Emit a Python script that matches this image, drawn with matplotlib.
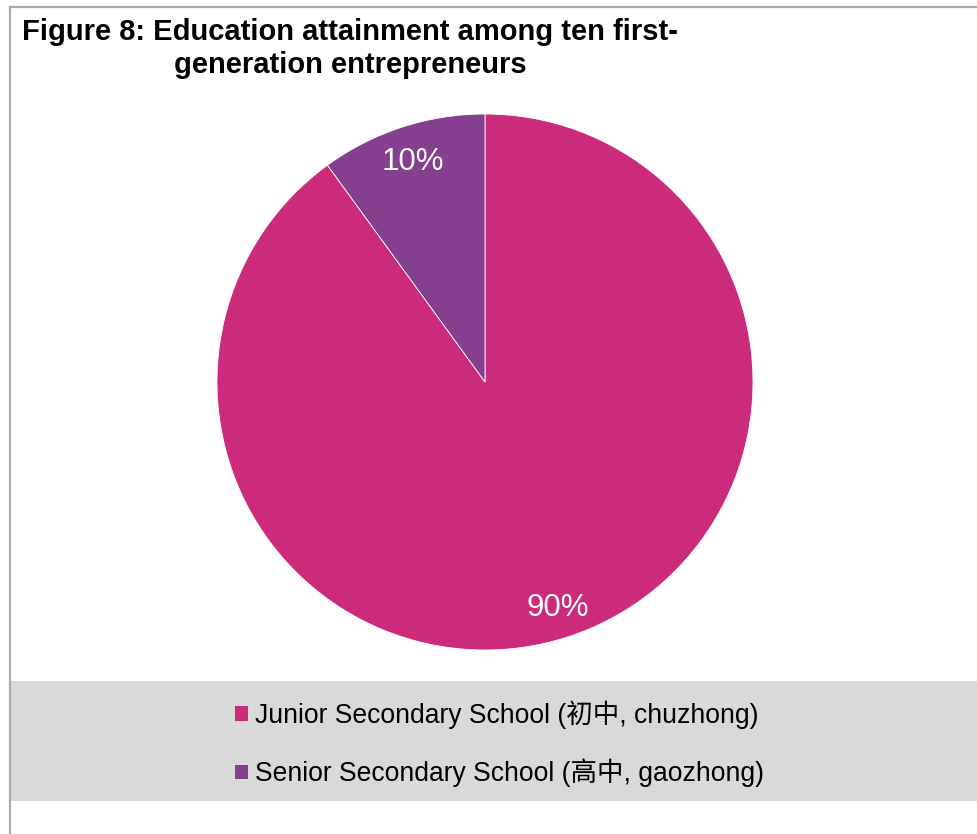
import matplotlib
matplotlib.use("Agg")
import matplotlib.pyplot as plt
from matplotlib.patches import Rectangle
from matplotlib.lines import Line2D

plt.rcParams['font.family'] = ['Liberation Sans', 'Noto Sans CJK SC', 'DejaVu Sans']

# Data
categories = ["Junior Secondary School (初中, chuzhong)",
              "Senior Secondary School (高中, gaozhong)"]
shares = [90, 10]
colors = ["#CC2A7B", "#843F8F"]
title = "Figure 8: Education attainment among ten first-\ngeneration entrepreneurs"

W, H = 978, 834
fig = plt.figure(figsize=(W / 100, H / 100), dpi=100)
ax = fig.add_axes([0, 0, 1, 1])

# Legend band
ax.add_patch(Rectangle((11, H - 801), W - 11, 120, facecolor="#D9D9D9",
                       edgecolor="none", zorder=0))

# Chart frame (top and left edges visible)
ax.add_line(Line2D([10, W], [H - 7, H - 7], color="#ABABAB", lw=1.6))
ax.add_line(Line2D([10, 10], [0, H - 7], color="#ABABAB", lw=1.6))

wedges, texts, autotexts = ax.pie(
    shares, colors=colors, startangle=90, counterclock=False,
    center=(485, H - 382), radius=268, autopct='%1.0f%%', pctdistance=0.875,
    wedgeprops=dict(edgecolor="white", linewidth=0.6),
    textprops=dict(color="white", fontsize=22.5), frame=True)
for t in autotexts:
    x, y = t.get_position()
    t.set_position((x, y - 3))

ax.set_xlim(0, W)
ax.set_ylim(0, H)
ax.set_aspect('equal')
ax.axis('off')

ax.text(350, H - 48.5, title, ha='center', va='center', multialignment='center',
        fontsize=21, fontweight='bold', linespacing=1.24)

leg = ax.legend(wedges, categories, loc='center left',
                bbox_to_anchor=(235, H - 744), bbox_transform=ax.transData,
                frameon=False, fontsize=19.1, handlelength=0.48,
                handleheight=0.48, handletextpad=0.28, labelspacing=1.12,
                borderpad=0, borderaxespad=0)
for h in leg.legend_handles:
    h.set_edgecolor("none")

fig.savefig("out.png", dpi=100)
